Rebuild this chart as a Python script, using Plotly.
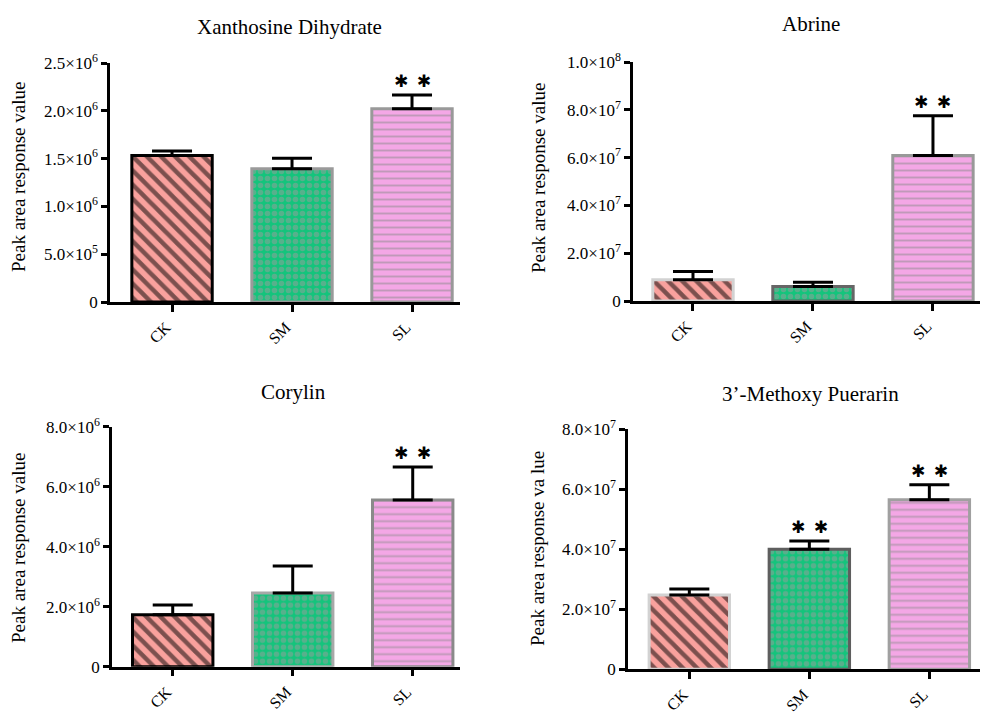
import plotly.graph_objects as go

W, H = 982, 713

categories = ["CK", "SM", "SL"]

titles = ["Xanthosine Dihydrate", "Abrine", "Corylin", "3\u2019-Methoxy Puerarin"]

xanthosine_mean = [1.532e6, 1.393e6, 2.021e6]
xanthosine_err = [0.047e6, 0.110e6, 0.144e6]
xanthosine_sig = ["", "", "**"]

abrine_mean = [8.9e6, 6.1e6, 6.09e7]
abrine_err = [3.4e6, 1.7e6, 1.66e7]
abrine_sig = ["", "", "**"]

corylin_mean = [1.73e6, 2.46e6, 5.56e6]
corylin_err = [0.33e6, 0.90e6, 1.10e6]
corylin_sig = ["", "", "**"]

methoxy_mean = [2.48e7, 4.00e7, 5.65e7]
methoxy_err = [0.20e7, 0.28e7, 0.50e7]
methoxy_sig = ["", "**", "**"]

ytick_vals_1 = [0, 5e5, 1e6, 1.5e6, 2e6, 2.5e6]
ytick_text_1 = ["0", "5.0×10<sup>5</sup>", "1.0×10<sup>6</sup>", "1.5×10<sup>6</sup>",
                "2.0×10<sup>6</sup>", "2.5×10<sup>6</sup>"]
ytick_vals_2 = [0, 2e7, 4e7, 6e7, 8e7, 1e8]
ytick_text_2 = ["0", "2.0×10<sup>7</sup>", "4.0×10<sup>7</sup>", "6.0×10<sup>7</sup>",
                "8.0×10<sup>7</sup>", "1.0×10<sup>8</sup>"]
ytick_vals_3 = [0, 2e6, 4e6, 6e6, 8e6]
ytick_text_3 = ["0", "2.0×10<sup>6</sup>", "4.0×10<sup>6</sup>", "6.0×10<sup>6</sup>",
                "8.0×10<sup>6</sup>"]
ytick_vals_4 = [0, 2e7, 4e7, 6e7, 8e7]
ytick_text_4 = ["0", "2.0×10<sup>7</sup>", "4.0×10<sup>7</sup>", "6.0×10<sup>7</sup>",
                "8.0×10<sup>7</sup>"]

ylabels = ["Peak area response value", "Peak area response value",
           "Peak area response value", "Peak area response va lue"]

FONT = "Liberation Serif"

# styles per bar
fill_colors = ["#F9A19D", "#14C47C", "#F4A7E6"]
patterns = [
    dict(shape="\\", fgcolor="#000000", size=10, solidity=0.45),
    dict(shape=".", fgcolor="#9C9C9C", size=7, solidity=0.5),
    dict(shape="-", fgcolor="#8C8C8C", size=7, solidity=0.28),
]
outline_sets = [
    ["#000000", "#9A9A9A", "#999999"],
    ["#D2D2D2", "#666666", "#999999"],
    ["#000000", "#A8A8A8", "#8A8A8A"],
    ["#D2D2D2", "#5E5E5E", "#A0A0A0"],
]

panels = [
    dict(mean=xanthosine_mean, err=xanthosine_err, sig=xanthosine_sig,
         tv=ytick_vals_1, tt=ytick_text_1, ymax=2.5e6,
         xpx=(110, 460), ypx=(63, 302), xr=(-0.517, 2.40),
         title_xy=(289, 27), ylab_xy=(18, 177)),
    dict(mean=abrine_mean, err=abrine_err, sig=abrine_sig,
         tv=ytick_vals_2, tt=ytick_text_2, ymax=1e8,
         xpx=(633, 980), ypx=(62, 301), xr=(-0.5, 2.392),
         title_xy=(811, 24), ylab_xy=(538, 178)),
    dict(mean=corylin_mean, err=corylin_err, sig=corylin_sig,
         tv=ytick_vals_3, tt=ytick_text_3, ymax=8e6,
         xpx=(112, 460), ypx=(426.7, 666.7), xr=(-0.506, 2.394),
         title_xy=(293, 392), ylab_xy=(18, 548)),
    dict(mean=methoxy_mean, err=methoxy_err, sig=methoxy_sig,
         tv=ytick_vals_4, tt=ytick_text_4, ymax=8e7,
         xpx=(628, 980), ypx=(429.3, 669.3), xr=(-0.511, 2.422),
         title_xy=(810, 394), ylab_xy=(537, 549)),
]

fig = go.Figure()
annotations = []
layout_axes = {}

for i, p in enumerate(panels):
    n = i + 1
    xa = "x" if n == 1 else f"x{n}"
    ya = "y" if n == 1 else f"y{n}"
    for j, cat in enumerate(categories):
        fig.add_trace(go.Bar(
            x=[cat], y=[p["mean"][j]],
            xaxis=xa, yaxis=ya,
            width=0.67,
            marker=dict(color=fill_colors[j], pattern=patterns[j],
                        line=dict(color=outline_sets[i][j], width=3)),
            error_y=dict(type="data", array=[p["err"][j]], arrayminus=[0],
                         symmetric=False, color="#000000", thickness=3, width=20),
            showlegend=False, hoverinfo="skip",
        ))
        if p["sig"][j]:
            annotations.append(dict(
                x=cat, y=p["mean"][j] + p["err"][j], xref=xa, yref=ya,
                text="✱\u2002✱", showarrow=False, yanchor="bottom", yshift=2,
                font=dict(family="DejaVu Sans", size=17, color="#000000"),
            ))
    xd = [p["xpx"][0] / W, p["xpx"][1] / W]
    yd = [1 - p["ypx"][1] / H, 1 - p["ypx"][0] / H]
    layout_axes["xaxis" if n == 1 else f"xaxis{n}"] = dict(
        domain=xd, anchor=ya, range=list(p["xr"]), type="category",
        categoryorder="array", categoryarray=categories,
        showline=True, linecolor="#000000", linewidth=2.5,
        ticks="outside", ticklen=7, tickwidth=2.5, tickcolor="#000000",
        tickangle=-45, ticklabelstandoff=0, ticklabelshift=-6, automargin=False,
        tickfont=dict(family=FONT, size=16, color="#000000"),
        showgrid=False, zeroline=False, fixedrange=True,
    )
    layout_axes["yaxis" if n == 1 else f"yaxis{n}"] = dict(
        domain=yd, anchor=xa, range=[0, p["ymax"]],
        tickvals=p["tv"], ticktext=p["tt"], automargin=False,
        showline=True, linecolor="#000000", linewidth=2.5,
        ticks="outside", ticklen=6, tickwidth=2.5, tickcolor="#000000",
        tickfont=dict(family=FONT, size=17, color="#000000"),
        showgrid=False, zeroline=False, fixedrange=True,
    )
    annotations.append(dict(
        x=p["title_xy"][0] / W, y=1 - p["title_xy"][1] / H, xref="paper", yref="paper",
        text=titles[i], showarrow=False, xanchor="center", yanchor="middle",
        font=dict(family=FONT, size=21, color="#000000"),
    ))
    annotations.append(dict(
        x=p["ylab_xy"][0] / W, y=1 - p["ylab_xy"][1] / H, xref="paper", yref="paper",
        text=ylabels[i], showarrow=False, xanchor="center", yanchor="middle",
        textangle=-90, font=dict(family=FONT, size=19, color="#000000"),
    ))

fig.update_layout(
    width=W, height=H, autosize=False,
    margin=dict(l=0, r=0, t=0, b=0, pad=0),
    paper_bgcolor="#FFFFFF", plot_bgcolor="#FFFFFF",
    barmode="overlay",
    annotations=annotations,
    **layout_axes,
)

post = ("document.body.style.margin='0';document.body.style.overflow='hidden';"
        "var gd=document.getElementById('{plot_id}');gd.style.position='fixed';"
        "gd.style.left='0px';gd.style.top='0px';")
fig.write_html("out.html", post_script=post, config={"displayModeBar": False})
